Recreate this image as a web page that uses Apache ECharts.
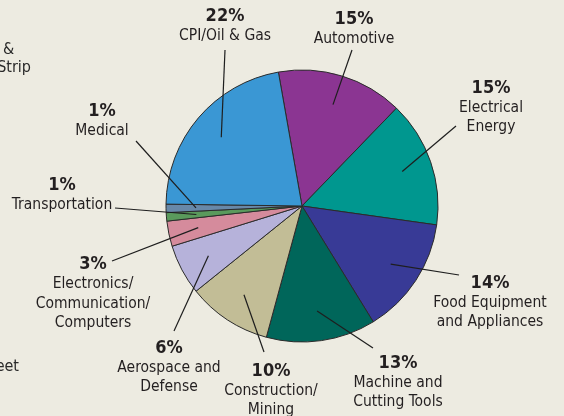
<!DOCTYPE html>
<html>
<head>
<meta charset="utf-8">
<script src="https://cdn.jsdelivr.net/npm/echarts@6/dist/echarts.min.js"></script>
<style>
  html, body { margin: 0; padding: 0; background: #edebe1; }
  #chart { width: 564px; height: 416px; }
</style>
</head>
<body>
<div id="chart"></div>
<script>
  // market share by industry, clockwise from the top
  var categories = ['Automotive', 'Electrical\nEnergy', 'Food Equipment\nand Appliances',
    'Machine and\nCutting Tools', 'Construction/\nMining', 'Aerospace and\nDefense',
    'Electronics/\nCommunication/\nComputers', 'Transportation', 'Medical', 'CPI/Oil & Gas']
  var percents = [15, 15, 14, 13, 10, 6, 3, 1, 1, 22]

  var colors = ['#8b3592', '#00978f', '#383a96', '#00665a', '#c2bd96',
    '#b6b2da', '#d58b9c', '#5a9a5c', '#6888a8', '#3a97d4']
  // label block centres and leader-line ends relative to them (layout only)
  var labelPos = [[354, 29], [491, 108], [490, 303], [398, 383], [271, 391],
    [169, 368], [93, 294], [62, 195], [102, 121], [225, 26]]
  var lineEnd = [[-2, 21], [-35, 18], [-31, -28], [-25, -35], [-7, -39],
    [5, -37], [19, -33], [53, 13], [34, 20], [0, 24]]

  var FONT = '"Liberation Sans Narrow", "DejaVu Sans Condensed", sans-serif'
  var center = [302, 206]

  var pieData = categories.map(function (c, i) {
    return { name: c, value: percents[i], itemStyle: { color: colors[i] } }
  })

  var myChart = echarts.init(document.getElementById('chart'))
  var option = {
    backgroundColor: '#edebe1',
    animation: false,
    graphic: [
      { type: 'text', left: 3, top: 42, style: { text: '&', font: '16px ' + FONT, fill: '#2a2a2a' } },
      { type: 'text', right: 533, top: 60, style: { text: 'Strip', font: '16px ' + FONT, fill: '#2a2a2a' } },
      { type: 'text', right: 545, top: 359, style: { text: 'eet', font: '16px ' + FONT, fill: '#2a2a2a' } }
    ],
    series: [
      {
        // visible slices
        type: 'pie',
        z: 2,
        center: center,
        radius: 136,
        startAngle: 100,
        clockwise: true,
        silent: true,
        label: { show: false },
        labelLine: { show: false },
        itemStyle: { borderColor: '#2b2b2b', borderWidth: 1 },
        data: pieData
      },
      {
        // transparent inner ring that carries the labels and leader lines
        type: 'pie',
        z: 5,
        center: center,
        radius: 106,
        startAngle: 100,
        clockwise: true,
        silent: true,
        itemStyle: { color: 'rgba(0,0,0,0)' },
        data: categories.map(function (c, i) { return { name: c, value: percents[i] } }),
        label: {
          show: true,
          position: 'outside',
          formatter: function (p) { return '{p|' + p.value + '%}\n{n|' + p.name.split('\n').join('}\n{n|') + '}' },
          align: 'center',
          rich: {
            p: { fontFamily: FONT, fontWeight: 'bold', fontSize: 18, lineHeight: 19, color: '#231f20', align: 'center' },
            n: { fontFamily: FONT, fontSize: 15.5, lineHeight: 19.5, color: '#231f20', align: 'center' }
          }
        },
        labelLine: {
          show: true,
          length: 10,
          length2: 0,
          lineStyle: { color: '#1e1e1e', width: 1.2 }
        },
        labelLayout: function (params) {
          var i = params.dataIndex
          var p = labelPos[i]
          var res = { x: p[0], y: p[1], align: 'center', verticalAlign: 'middle' }
          if (params.labelLinePoints) {
            var start = params.labelLinePoints[0]
            var end = [p[0] + lineEnd[i][0], p[1] + lineEnd[i][1]]
            res.labelLinePoints = [start, end, end]
          }
          return res
        }
      }
    ]
  }
  myChart.setOption(option)
  window.addEventListener('resize', function () {
    myChart.resize()
  })
</script>
</body>
</html>
